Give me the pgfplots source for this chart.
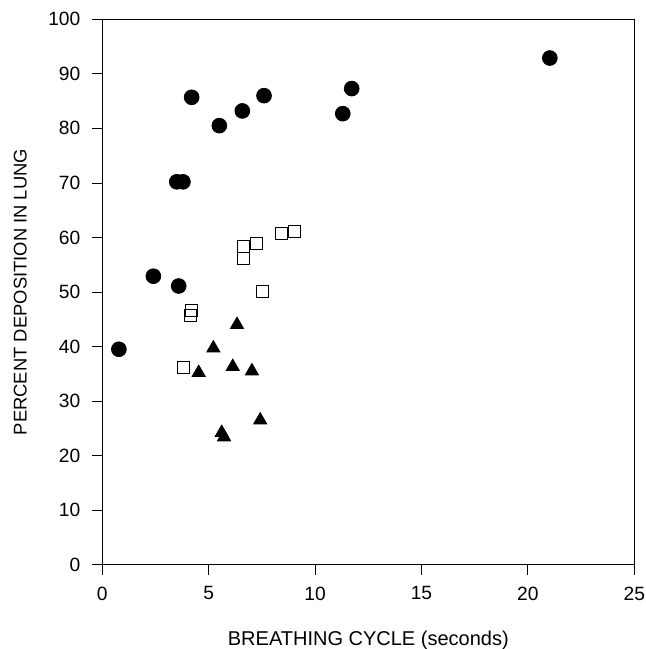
\documentclass[border=0pt]{standalone}
\usepackage{pgfplots}
\pgfplotsset{compat=1.18}
\usepackage{fontspec}
\setmainfont{Liberation Sans}
\begin{document}
\begin{tikzpicture}
\useasboundingbox (-51.15pt,-42.15pt) rectangle ++(322.5pt,324.5pt);
\begin{axis}[
  at={(0pt,0pt)}, anchor=south west,
  scale only axis,
  width=266pt, height=272.7pt,
  xmin=0, xmax=25, ymin=0, ymax=100,
  xtick={0,5,...,25}, ytick={0,10,...,100},
  tick align=outside, tick pos=left,
  major tick length=5pt,
  axis line style={black, line width=0.6pt},
  tick style={black, line width=0.4pt},
  /pgf/number format/assume math mode=true,
  ticklabel style={font=\fontsize{9.6}{11}\selectfont},
  xticklabel style={yshift=-2.45pt},
  yticklabel style={xshift=-2.45pt},
  xlabel={BREATHING CYCLE (seconds)},
  ylabel={PERCENT DEPOSITION IN LUNG},
  xlabel style={font=\fontsize{10}{12}\selectfont, at={(axis description cs:0.5,0)}, anchor=base, yshift=-40.15pt},
  ylabel style={font=\fontsize{9.2}{11}\selectfont, at={(axis description cs:0,0.5)}, anchor=base, yshift=37.8pt},
  clip=false,
]
\addplot[only marks, mark=*, mark size=3.7pt, mark options={fill=black, draw=black}] coordinates {
(0.78,39.5) (2.40,52.9) (3.59,51.1) (3.50,70.2) (3.79,70.2) (4.20,85.7)
(5.50,80.5) (6.58,83.2) (7.60,86.0) (11.30,82.7) (11.72,87.3) (21.03,92.9)
};
\addplot[only marks, mark=square, mark size=3pt, mark options={fill=white, draw=black, line width=0.4pt}] coordinates {
(6.63,58.3) (6.63,56.2) (7.22,58.9) (8.43,60.8) (9.02,61.2) (7.52,50.2)
(4.20,46.6) (4.12,45.7) (3.83,36.1)
};
\addplot[only marks, mark=triangle*, mark size=3.8pt, mark options={fill=black, draw=black}] coordinates {
(6.33,44.0) (5.22,39.7) (4.53,35.2) (6.13,36.3) (7.03,35.5) (7.42,26.5)
(5.61,24.2) (5.72,23.4)
};
\end{axis}
\end{tikzpicture}
\end{document}
